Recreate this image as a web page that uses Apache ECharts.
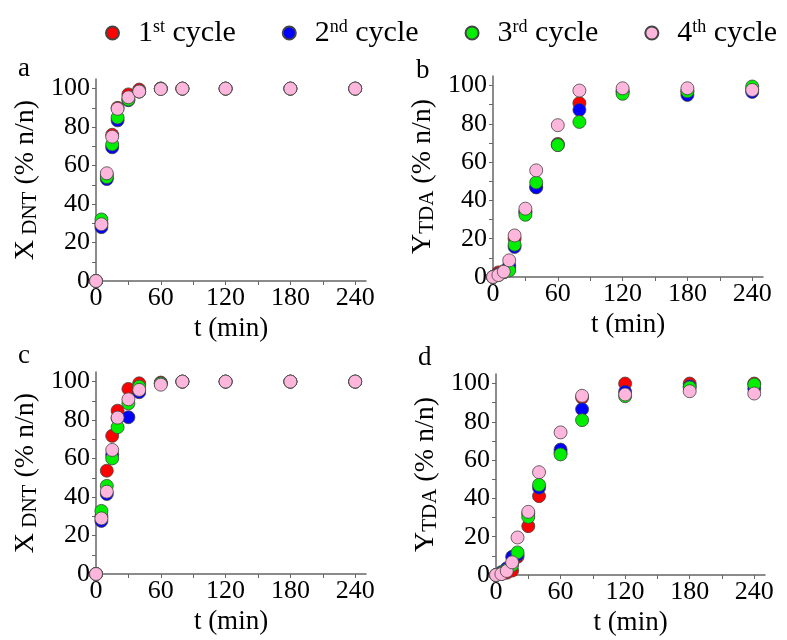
<!DOCTYPE html>
<html>
<head>
<meta charset="utf-8">
<script src="https://cdn.jsdelivr.net/npm/echarts@6/dist/echarts.min.js"></script>
<style>
  html, body { margin: 0; padding: 0; background: #fff; }
  #chart { width: 787px; height: 640px; }
</style>
</head>
<body>
<div id="chart"></div>
<script>
// sampling times (min)
var times = [0, 5, 10, 15, 20, 30, 40, 60, 80, 120, 180, 240];
var cycles = ['1st cycle', '2nd cycle', '3rd cycle', '4th cycle'];
var colors = ['#ff0000', '#0000ff', '#00ee00', '#ffb6dc'];
var xTicks = [0, 60, 120, 180, 240];
var yTicks = [0, 20, 40, 60, 80, 100];

// panel a: X DNT
var aX1 = [0, 30, 55, 76, 90, 97, 99.5, 100, 100, 100, 100, 100];
var aX2 = [0, 28, 53, 69.5, 83.5, 94, 98.5, 100, 100, 100, 100, 100];
var aX3 = [0, 32, 54, 71, 85, 94.3, 98.5, 100, 100, 100, 100, 100];
var aX4 = [0, 29.5, 56, 75, 89.5, 95.5, 98.5, 99.8, 100, 100, 100, 100];
// panel b: Y TDA
var bY1 = [0, 2.4, 3, 5, 20, 34, 47, 69.5, 90.8, 97, 97, 98];
var bY2 = [0, 1.5, 2.5, 6, 15.7, 34, 46.8, 69, 87.3, 97, 95.1, 96.7];
var bY3 = [0, 1, 2.5, 3.5, 16.9, 32.5, 49.4, 68.9, 81, 95.7, 97, 99.5];
var bY4 = [0, 1, 2.8, 8.7, 21.7, 35.7, 55.7, 79.3, 97.4, 98.6, 98.6, 97.7];
// panel c: X DNT
var cX1 = [0, 30, 53.7, 71.8, 84.9, 96.2, 99.1, 99.5, 100, 100, 100, 100];
var cX2 = [0, 27.6, 41.6, 62, 81, 81.5, 94.5, 99, 100, 100, 100, 100];
var cX3 = [0, 32.8, 45.8, 60.1, 76.3, 88.7, 97.4, 99, 100, 100, 100, 100];
var cX4 = [0, 28.9, 42.8, 64.5, 81.3, 90.8, 95.7, 98.4, 100, 100, 100, 100];
// panel d: Y TDA
var dY1 = [0, 0.5, 1.2, 2.3, 9.5, 25.5, 41.2, 64, 92.7, 100, 100, 100];
var dY2 = [0, 1.5, 3.5, 9.5, 10.5, 32, 45.6, 65.5, 86.6, 95.7, 98.6, 97.4];
var dY3 = [0, 1, 2.6, 5.2, 11.8, 30.3, 47.1, 63, 80.9, 93.4, 98, 99.5];
var dY4 = [0, 0.5, 2.1, 6.6, 19.6, 33, 53.7, 74.5, 93.6, 94.3, 96, 94.8];

var panels = [[aX1, aX2, aX3, aX4], [bY1, bY2, bY3, bY4], [cX1, cX2, cX3, cX4], [dY1, dY2, dY3, dY4]];
var yNames = ['{m|X}{s| DNT}{m| (% n/n)}', '{m|Y}{s|TDA}{m| (% n/n)}',
              '{m|X}{s| DNT}{m| (% n/n)}', '{m|Y}{s|TDA}{m| (% n/n)}'];

var font = 'Liberation Serif';
var axisColor = '#666';

var myChart = echarts.init(document.getElementById('chart'));

var grids = [
    {left: 96, top: 79, width: 270, height: 202},
    {left: 493, top: 76, width: 270, height: 201},
    {left: 96, top: 372, width: 270, height: 202},
    {left: 496, top: 374, width: 269, height: 201}
];

var xAxes = [], yAxes = [], series = [];
grids.forEach(function (g, p) {
    xAxes.push({
        gridIndex: p, type: 'value', min: 0, max: 250,
        name: 't (min)', nameLocation: 'middle', nameGap: 34,
        nameTextStyle: {fontFamily: font, fontSize: 27, color: '#000'},
        axisLine: {onZero: false, lineStyle: {color: axisColor, width: 1.5}},
        axisTick: {customValues: [0, 30, 60, 90, 120, 150, 180, 210, 240], length: 4, lineStyle: {color: axisColor}},
        axisLabel: {customValues: xTicks, fontFamily: font, fontSize: 26, color: '#000', margin: 4},
        splitLine: {show: false}
    });
    yAxes.push({
        gridIndex: p, type: 'value', min: 0, max: 105,
        name: yNames[p], nameLocation: 'middle', nameGap: 55, nameRotate: 90,
        nameTextStyle: {
            color: '#000',
            rich: {
                m: {fontFamily: font, fontSize: 28, color: '#000'},
                s: {fontFamily: font, fontSize: 21, color: '#000', verticalAlign: 'bottom', padding: [10, 0, 0, 0]}
            }
        },
        axisLine: {onZero: false, lineStyle: {color: axisColor, width: 1.5}},
        axisTick: {customValues: [0, 10, 20, 30, 40, 50, 60, 70, 80, 90, 100], length: 4, lineStyle: {color: axisColor}},
        axisLabel: {customValues: yTicks, fontFamily: font, fontSize: 26, color: '#000', margin: 6},
        splitLine: {show: false}
    });
    panels[p].forEach(function (vals, c) {
        series.push({
            type: 'scatter', name: cycles[c],
            xAxisIndex: p, yAxisIndex: p,
            symbolSize: 13,
            itemStyle: {color: colors[c], borderColor: '#444', borderWidth: 0.8, opacity: 1},
            data: times.map(function (t, i) { return [t, vals[i]]; })
        });
    });
});

var sup = {'1st cycle': ['1', 'st'], '2nd cycle': ['2', 'nd'], '3rd cycle': ['3', 'rd'], '4th cycle': ['4', 'th']};

var option = {
    animation: false,
    title: [
        {text: 'a', left: 13, top: 50},
        {text: 'b', left: 411, top: 52},
        {text: 'c', left: 13, top: 337},
        {text: 'd', left: 413, top: 339}
    ].map(function (t) {
        t.textStyle = {fontFamily: font, fontSize: 27, fontWeight: 'normal', color: '#000'};
        return t;
    }),
    legend: {
        data: cycles, left: 105, top: 18, padding: 0, icon: 'circle',
        itemWidth: 13, itemHeight: 13, itemGap: 46,
        formatter: function (name) {
            var s = sup[name];
            return '{f|' + s[0] + '}{u|' + s[1] + '}{n| cycle}';
        },
        textStyle: {
            rich: {
                f: {fontFamily: font, fontSize: 30, color: '#000', padding: [0, 0, 0, 14]},
                n: {fontFamily: font, fontSize: 30, color: '#000'},
                u: {fontFamily: font, fontSize: 18, color: '#000', verticalAlign: 'top'}
            }
        }
    },
    grid: grids,
    xAxis: xAxes,
    yAxis: yAxes,
    series: series
};

myChart.setOption(option);
</script>
</body>
</html>
